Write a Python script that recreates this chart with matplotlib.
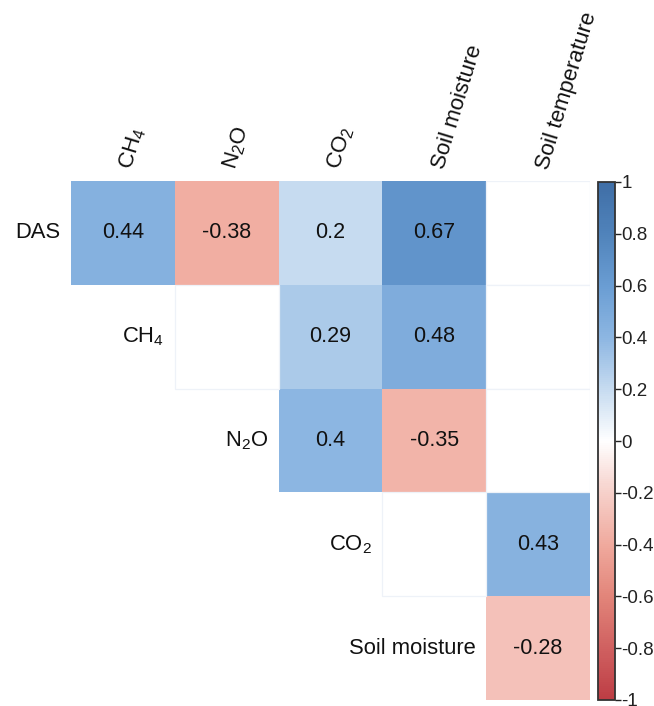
import numpy as np
import matplotlib
matplotlib.use("Agg")
import matplotlib.pyplot as plt
from matplotlib.colors import LinearSegmentedColormap, Normalize
from matplotlib.patches import Rectangle
from matplotlib.cm import ScalarMappable

plt.rcParams['font.family'] = ['Liberation Sans', 'DejaVu Sans']
plt.rcParams['mathtext.default'] = 'regular'
plt.rcParams['axes.unicode_minus'] = False

# ---- data ----
row_labels = ['DAS', 'CH$_4$', 'N$_2$O', 'CO$_2$', 'Soil moisture']
col_labels = ['CH$_4$', 'N$_2$O', 'CO$_2$', 'Soil moisture', 'Soil temperature']
# None = not part of the upper triangle; nan = not significant (blank cell)
nan = np.nan
corr_das = [0.44, -0.38, 0.20, 0.67, nan]
corr_ch4 = [None, nan, 0.29, 0.48, nan]
corr_n2o = [None, None, 0.40, -0.35, nan]
corr_co2 = [None, None, None, nan, 0.43]
corr_sm = [None, None, None, None, -0.28]
cbar_ticks = [-1, -0.8, -0.6, -0.4, -0.2, 0, 0.2, 0.4, 0.6, 0.8, 1]

rows = [corr_das, corr_ch4, corr_n2o, corr_co2, corr_sm]

cmap = LinearSegmentedColormap.from_list('corr', [
    (0.0, '#bd3d44'), (0.1, '#d06161'), (0.2, '#e2857a'), (0.3, '#f0aa9e'),
    (0.4, '#f6d0ca'), (0.5, '#ffffff'), (0.6, '#c6dbf0'), (0.7, '#8db6e2'),
    (0.8, '#6a9dd3'), (0.9, '#5083bb'), (1.0, '#3f6ea6')])
norm = Normalize(-1, 1)

fig = plt.figure(figsize=(6.54, 7.06), dpi=100)
W, H = 654, 706
ax = fig.add_axes([71 / W, 1 - 700 / H, 519 / W, 519 / H])
nr, nc = len(rows), len(col_labels)
ax.set_xlim(0, nc)
ax.set_ylim(nr, 0)
ax.axis('off')

shown = np.full((nr, nc), np.nan)
for i, r in enumerate(rows):
    for j, v in enumerate(r):
        if v is not None and not np.isnan(v):
            shown[i, j] = v
mesh = ax.pcolormesh(np.arange(nc + 1), np.arange(nr + 1),
                     np.ma.masked_invalid(shown), cmap=cmap, norm=norm)

for i, r in enumerate(rows):
    for j, v in enumerate(r):
        if v is None:
            continue
        if np.isnan(v):
            ax.add_patch(Rectangle((j, i), 1, 1, facecolor='white',
                                   edgecolor='#eef2f8', lw=0.9, zorder=1))
        else:
            ax.text(j + 0.5, i + 0.5, f'{v:g}', ha='center', va='center',
                    fontsize=15.5, color='#111111', zorder=3)
    # row label to the left of the first cell
    first = next(j for j, v in enumerate(r) if v is not None)
    ax.text(first - 0.1, i + 0.5, row_labels[i], ha='right', va='center',
            fontsize=15.8, color='#111111')

for j, lab in enumerate(col_labels):
    ax.text(j + 0.64, -0.09, lab, rotation=73, rotation_mode='anchor',
            ha='left', va='bottom', fontsize=16, color='#111111')

cax = fig.add_axes([598 / W, 1 - 700 / H, 17 / W, 518 / H])
sm = ScalarMappable(norm=norm, cmap=cmap)
cb = fig.colorbar(sm, cax=cax, ticks=cbar_ticks)
cb.ax.set_yticklabels([f'{t:g}' for t in cbar_ticks])
cb.ax.tick_params(labelsize=13.5, length=4, width=1, colors='#222222', pad=0.5)
cb.outline.set_edgecolor('#333333')
cb.outline.set_linewidth(1.3)

fig.savefig('out.png', dpi=100, facecolor='white')
